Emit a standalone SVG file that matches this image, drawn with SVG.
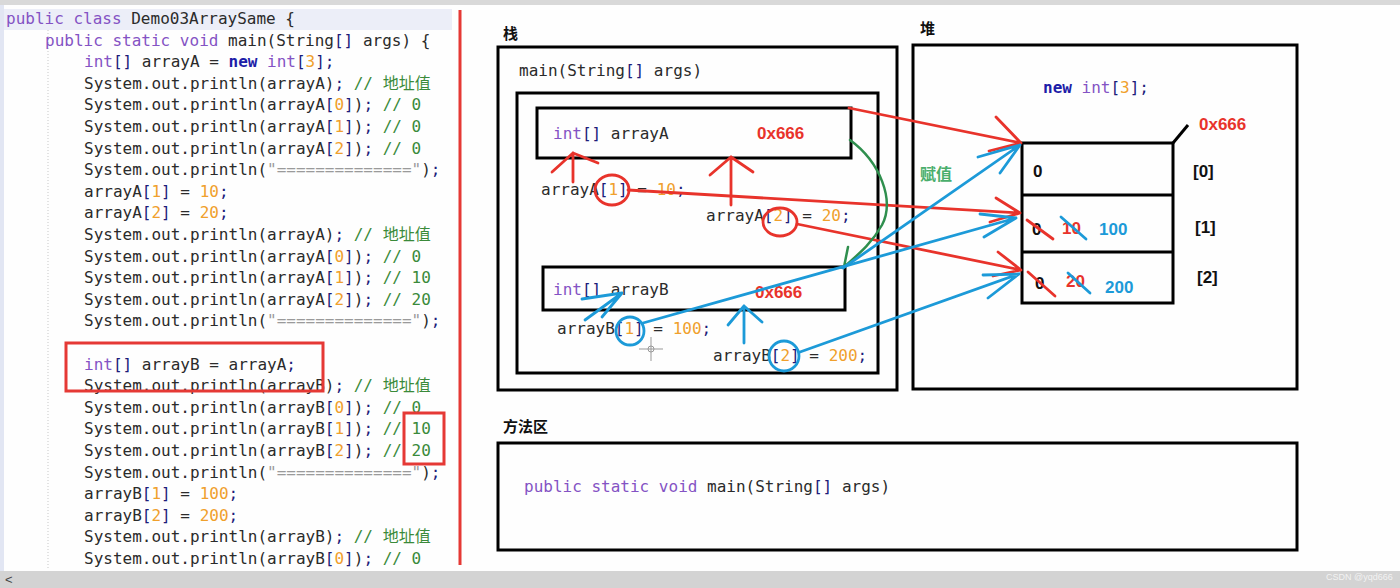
<svg xmlns="http://www.w3.org/2000/svg" width="1400" height="588" viewBox="0 0 1400 588">
<style>
.code{font-family:"DejaVu Sans Mono","Noto Sans CJK SC",monospace;font-size:16px;fill:#2b2b2b}
.k{fill:#8453c4}
.nw{fill:#1d1da8;font-weight:bold}
.num{fill:#f0a02c}
.br{fill:#1c1c7a}
.cm{fill:#3a8a3a}
.st{fill:#9a9a9a}
.lbl{font-family:"Noto Sans CJK SC",sans-serif;font-size:15px;font-weight:bold;fill:#111}
.hx{font-family:"Liberation Sans",sans-serif;font-weight:bold;font-size:17px}
.box{fill:none;stroke:#000;stroke-width:3}
.red{stroke:#e8332b;stroke-width:2.8;fill:none;stroke-linecap:round;stroke-linejoin:round}
.blue{stroke:#1c9ad8;stroke-width:2.8;fill:none;stroke-linecap:round;stroke-linejoin:round}
.green{stroke:#2f8f4e;stroke-width:2.5;fill:none;stroke-linecap:round}
.rtxt{fill:#e8332b}
.btxt{fill:#1c9ad8}
</style>
<rect x="0" y="0" width="1400" height="588" fill="#fefefe"/>
<rect x="0" y="0" width="1400" height="5" fill="#d9d9d9"/>
<rect x="0" y="5" width="4" height="566" fill="#e2e6f3"/>

<g id="code">
<rect x="4" y="9" width="448" height="21" fill="#eceef8"/>
<line x1="48" y1="30" x2="48" y2="570" stroke="#c8c8c8" stroke-width="1" stroke-dasharray="1,2"/>
<text class="code" x="6" y="24"><tspan class="k">public class</tspan> Demo03ArraySame {</text>
<text class="code" x="45" y="45.6"><tspan class="k">public static void</tspan> main(String<tspan class="br">[]</tspan> args) {</text>
<text class="code" x="84" y="67.2"><tspan class="k">int</tspan><tspan class="br">[]</tspan> arrayA = <tspan class="nw">new</tspan> <tspan class="k">int</tspan><tspan class="br">[</tspan><tspan class="num">3</tspan><tspan class="br">];</tspan></text>
<text class="code" x="84" y="88.8">System.out.println(arrayA)<tspan class="br">;</tspan> <tspan class="cm">// 地址值</tspan></text>
<text class="code" x="84" y="110.4">System.out.println(arrayA<tspan class="br">[</tspan><tspan class="num">0</tspan><tspan class="br">]</tspan>)<tspan class="br">;</tspan> <tspan class="cm">// 0</tspan></text>
<text class="code" x="84" y="132">System.out.println(arrayA<tspan class="br">[</tspan><tspan class="num">1</tspan><tspan class="br">]</tspan>)<tspan class="br">;</tspan> <tspan class="cm">// 0</tspan></text>
<text class="code" x="84" y="153.6">System.out.println(arrayA<tspan class="br">[</tspan><tspan class="num">2</tspan><tspan class="br">]</tspan>)<tspan class="br">;</tspan> <tspan class="cm">// 0</tspan></text>
<text class="code" x="84" y="175.2">System.out.println(<tspan class="st">"=============="</tspan>)<tspan class="br">;</tspan></text>
<text class="code" x="84" y="196.8">arrayA<tspan class="br">[</tspan><tspan class="num">1</tspan><tspan class="br">]</tspan> = <tspan class="num">10</tspan><tspan class="br">;</tspan></text>
<text class="code" x="84" y="218.4">arrayA<tspan class="br">[</tspan><tspan class="num">2</tspan><tspan class="br">]</tspan> = <tspan class="num">20</tspan><tspan class="br">;</tspan></text>
<text class="code" x="84" y="240">System.out.println(arrayA)<tspan class="br">;</tspan> <tspan class="cm">// 地址值</tspan></text>
<text class="code" x="84" y="261.6">System.out.println(arrayA<tspan class="br">[</tspan><tspan class="num">0</tspan><tspan class="br">]</tspan>)<tspan class="br">;</tspan> <tspan class="cm">// 0</tspan></text>
<text class="code" x="84" y="283.2">System.out.println(arrayA<tspan class="br">[</tspan><tspan class="num">1</tspan><tspan class="br">]</tspan>)<tspan class="br">;</tspan> <tspan class="cm">// 10</tspan></text>
<text class="code" x="84" y="304.8">System.out.println(arrayA<tspan class="br">[</tspan><tspan class="num">2</tspan><tspan class="br">]</tspan>)<tspan class="br">;</tspan> <tspan class="cm">// 20</tspan></text>
<text class="code" x="84" y="326.4">System.out.println(<tspan class="st">"=============="</tspan>)<tspan class="br">;</tspan></text>
<text class="code" x="84" y="369.6"><tspan class="k">int</tspan><tspan class="br">[]</tspan> arrayB = arrayA<tspan class="br">;</tspan></text>
<text class="code" x="84" y="391.2">System.out.println(arrayB)<tspan class="br">;</tspan> <tspan class="cm">// 地址值</tspan></text>
<text class="code" x="84" y="412.8">System.out.println(arrayB<tspan class="br">[</tspan><tspan class="num">0</tspan><tspan class="br">]</tspan>)<tspan class="br">;</tspan> <tspan class="cm">// 0</tspan></text>
<text class="code" x="84" y="434.4">System.out.println(arrayB<tspan class="br">[</tspan><tspan class="num">1</tspan><tspan class="br">]</tspan>)<tspan class="br">;</tspan> <tspan class="cm">// 10</tspan></text>
<text class="code" x="84" y="456">System.out.println(arrayB<tspan class="br">[</tspan><tspan class="num">2</tspan><tspan class="br">]</tspan>)<tspan class="br">;</tspan> <tspan class="cm">// 20</tspan></text>
<text class="code" x="84" y="477.6">System.out.println(<tspan class="st">"=============="</tspan>)<tspan class="br">;</tspan></text>
<text class="code" x="84" y="499.2">arrayB<tspan class="br">[</tspan><tspan class="num">1</tspan><tspan class="br">]</tspan> = <tspan class="num">100</tspan><tspan class="br">;</tspan></text>
<text class="code" x="84" y="520.8">arrayB<tspan class="br">[</tspan><tspan class="num">2</tspan><tspan class="br">]</tspan> = <tspan class="num">200</tspan><tspan class="br">;</tspan></text>
<text class="code" x="84" y="542.4">System.out.println(arrayB)<tspan class="br">;</tspan> <tspan class="cm">// 地址值</tspan></text>
<text class="code" x="84" y="564">System.out.println(arrayB<tspan class="br">[</tspan><tspan class="num">0</tspan><tspan class="br">]</tspan>)<tspan class="br">;</tspan> <tspan class="cm">// 0</tspan></text>
<rect x="66" y="343" width="257" height="48" fill="none" stroke="#e53935" stroke-width="3"/>
<rect x="404" y="413" width="40" height="51" fill="none" stroke="#e53935" stroke-width="3"/>
<line x1="460" y1="10" x2="460" y2="565" stroke="#e53935" stroke-width="3"/>
</g>

<g id="stack">
<text class="lbl" x="503" y="39">栈</text>
<rect class="box" x="498" y="47" width="399" height="343"/>
<text class="code" x="519" y="76">main(String<tspan class="br">[]</tspan> args)</text>
<rect class="box" x="517" y="93" width="361" height="280"/>
</g>

<g id="arrayA">
<rect class="box" x="537" y="108" width="314" height="50"/>
<text class="code" x="553" y="139"><tspan class="k">int</tspan><tspan class="br">[]</tspan> arrayA</text>
<text class="hx rtxt" x="757" y="139">0x666</text>
</g>

<g id="arrayB">
<rect class="box" x="543" y="267" width="302" height="43"/>
<text class="code" x="553" y="295"><tspan class="k">int</tspan><tspan class="br">[]</tspan> arrayB</text>
<text class="hx rtxt" x="755" y="298">0x666</text>
</g>

<g id="stack-statements">
<text class="code" x="541" y="195">arrayA<tspan class="br">[</tspan><tspan class="num">1</tspan><tspan class="br">]</tspan> = <tspan class="num">10</tspan><tspan class="br">;</tspan></text>
<text class="code" x="706" y="221">arrayA<tspan class="br">[</tspan><tspan class="num">2</tspan><tspan class="br">]</tspan> = <tspan class="num">20</tspan><tspan class="br">;</tspan></text>
<text class="code" x="557" y="334">arrayB<tspan class="br">[</tspan><tspan class="num">1</tspan><tspan class="br">]</tspan> = <tspan class="num">100</tspan><tspan class="br">;</tspan></text>
<text class="code" x="713" y="361">arrayB<tspan class="br">[</tspan><tspan class="num">2</tspan><tspan class="br">]</tspan> = <tspan class="num">200</tspan><tspan class="br">;</tspan></text>
<g stroke="#999" stroke-width="1">
<line x1="639" y1="349" x2="663" y2="349"/>
<line x1="651" y1="337" x2="651" y2="361"/>
</g>
<circle cx="651" cy="349" r="3" fill="none" stroke="#999" stroke-width="1"/>
</g>

<g id="heap">
<text class="lbl" x="920" y="34">堆</text>
<rect class="box" x="913" y="45" width="384" height="344"/>
<text class="code" x="1043" y="93"><tspan class="nw">new</tspan> <tspan class="k">int</tspan><tspan class="br">[</tspan><tspan class="num">3</tspan><tspan class="br">];</tspan></text>
<text class="hx rtxt" x="1199" y="130">0x666</text>
<line x1="1173" y1="143" x2="1188" y2="125" stroke="#000" stroke-width="3"/>
<rect class="box" x="1022" y="143" width="151" height="160"/>
<line x1="1022" y1="195" x2="1173" y2="195" stroke="#000" stroke-width="3"/>
<line x1="1022" y1="252" x2="1173" y2="252" stroke="#000" stroke-width="3"/>
<text class="hx" x="1033" y="177" fill="#111">0</text>
<text class="hx" x="1193" y="177" fill="#111">[0]</text>
<text class="hx" x="1195" y="233" fill="#111">[1]</text>
<text class="hx" x="1197" y="283" fill="#111">[2]</text>
<text class="hx" x="1032" y="235" fill="#111">0</text>
<text class="hx rtxt" x="1062" y="234">10</text>
<text class="hx btxt" x="1099" y="235">100</text>
<text class="hx" x="1035" y="289" fill="#111">0</text>
<text class="hx rtxt" x="1066" y="287">20</text>
<text class="hx btxt" x="1105" y="293">200</text>
<line class="red" x1="1027" y1="220" x2="1053" y2="239"/>
<line class="blue" x1="1061" y1="217" x2="1086" y2="239"/>
<line class="red" x1="1028" y1="272" x2="1055" y2="296"/>
<line class="blue" x1="1068" y1="273" x2="1090" y2="293"/>
<text x="920" y="180" font-family="Noto Sans CJK SC, sans-serif" font-size="16" font-weight="bold" fill="#4aae6c">赋值</text>
</g>

<g id="method-area">
<text class="lbl" x="503" y="432">方法区</text>
<rect class="box" x="498" y="443" width="799" height="107"/>
<text class="code" x="524" y="492"><tspan class="k">public static void</tspan> main(String<tspan class="br">[]</tspan> args)</text>
</g>

<g id="connectors">
<ellipse class="red" cx="612" cy="190" rx="17" ry="15"/>
<ellipse class="red" cx="780" cy="222" rx="17" ry="14"/>
<path class="red" d="M849,108 L1021,143 M996,117 L1021,143 L989,151"/>
<path class="red" d="M628,190 L1020,213 M996,198 L1020,213 L990,222"/>
<path class="red" d="M797,224 L1021,270 M998,252 L1021,270 L993,276"/>
<path class="red" d="M573,182 L573,153 M552,172 L573,153 L598,163"/>
<path class="red" d="M731,205 L731,157 M710,175 L731,157 L753,172"/>
<path class="green" d="M850,140 C880,162 895,200 882,225 C870,246 856,256 844,267 M848,247 L844,267"/>
<circle class="blue" cx="630" cy="331" r="14"/>
<circle class="blue" cx="784" cy="356" r="15"/>
<path class="blue" d="M843,268 L1020,145 M978,157 L1020,145 L1000,173"/>
<path class="blue" d="M643,323 L1016,218 M980,214 L1016,218 L984,237"/>
<path class="blue" d="M800,352 L1019,274 M983,275 L1019,274 L988,298"/>
<path class="blue" d="M585,320 L622,293 M582,299 L622,293 L602,317"/>
<path class="blue" d="M744,343 L744,306 M728,325 L744,306 L762,322"/>
</g>

<rect x="0" y="571" width="1400" height="17" fill="#d3d3d3"/>
<text x="5" y="584" font-family="Liberation Sans, sans-serif" font-size="13" fill="#444">&lt;</text>
<text x="1326" y="580" font-family="Liberation Sans, sans-serif" font-size="9" fill="#f2f2f2">CSDN @yqd666</text>
</svg>
